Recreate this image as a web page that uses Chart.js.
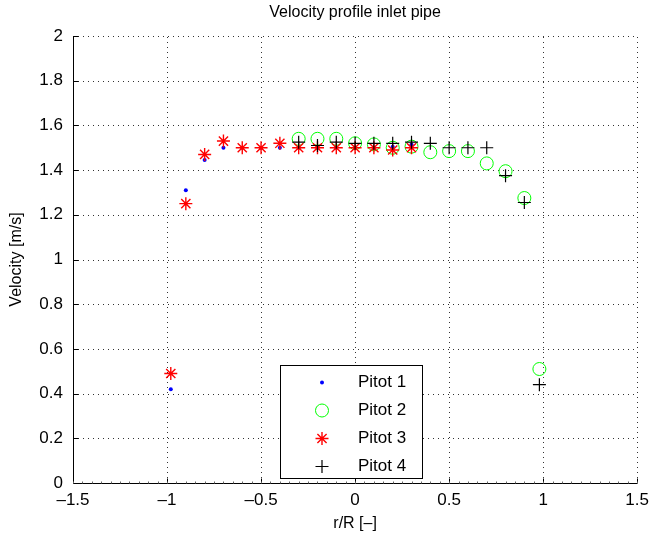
<!DOCTYPE html>
<html>
<head>
<meta charset="utf-8">
<script src="https://cdn.jsdelivr.net/npm/chart.js@4"></script>
<style>
  body { margin:0; background:#fff; }
  #wrap { width:656px; height:539px; }
</style>
</head>
<body>
<div id="wrap"><canvas id="velChart" width="656" height="539"></canvas></div>
<script>
// --- Data ---
const pitot1R = [-0.98,-0.9,-0.8,-0.7,-0.6,-0.5,-0.4,-0.3,-0.2,-0.1,0,0.1,0.2,0.3];
const pitot1V = [0.42,1.31,1.445,1.50,1.50,1.50,1.50,1.50,1.50,1.50,1.50,1.50,1.505,1.515];

const pitot2R = [-0.3,-0.2,-0.1,0,0.1,0.2,0.3,0.4,0.5,0.6,0.7,0.8,0.9,0.98];
const pitot2V = [1.54,1.54,1.54,1.52,1.515,1.50,1.505,1.48,1.485,1.485,1.43,1.395,1.275,0.51];

const pitot3R = [-0.98,-0.9,-0.8,-0.7,-0.6,-0.5,-0.4,-0.3,-0.2,-0.1,0,0.1,0.2,0.3];
const pitot3V = [0.49,1.25,1.47,1.53,1.50,1.50,1.52,1.50,1.50,1.50,1.50,1.50,1.49,1.50];

const pitot4R = [-0.3,-0.2,-0.1,0,0.1,0.2,0.3,0.4,0.5,0.6,0.7,0.8,0.9,0.98];
const pitot4V = [1.525,1.51,1.525,1.52,1.52,1.52,1.525,1.52,1.50,1.50,1.50,1.375,1.255,0.44];

const xTicks = [-1.5,-1,-0.5,0,0.5,1,1.5];
const yTicks = [0,0.2,0.4,0.6,0.8,1,1.2,1.4,1.6,1.8,2];

const FONT = "'Liberation Sans', Arial, Helvetica, sans-serif";
const pts = (xs, ys) => xs.map((x,i)=>({x, y:ys[i]}));

// draw one marker (used for the legend)
function marker(ctx, ds, cx, cy) {
  const r = ds.pointRadius;
  ctx.save();
  ctx.strokeStyle = ds.borderColor; ctx.fillStyle = ds.backgroundColor; ctx.lineWidth = ds.borderWidth || 1;
  ctx.beginPath();
  if (ds.pointStyle === 'circle') {
    ctx.arc(cx, cy, r, 0, Math.PI*2);
    if (ds.borderWidth === 0) ctx.fill(); else ctx.stroke();
  } else {
    ctx.moveTo(cx-r, cy); ctx.lineTo(cx+r, cy); ctx.moveTo(cx, cy-r); ctx.lineTo(cx, cy+r);
    if (ds.pointStyle === 'star') {
      const d = r*0.7071;
      ctx.moveTo(cx-d, cy-d); ctx.lineTo(cx+d, cy+d); ctx.moveTo(cx-d, cy+d); ctx.lineTo(cx+d, cy-d);
    }
    ctx.stroke();
  }
  ctx.restore();
}

// --- MATLAB-ish frame: dotted grid, axes, inward ticks, title, legend ---
const framePlugin = {
  id: 'frame',
  beforeDatasetsDraw(chart) {
    const {ctx, chartArea:a, scales:{x, y}} = chart;
    ctx.save();
    ctx.strokeStyle = '#333';
    ctx.lineWidth = 1;
    ctx.setLineDash([1,4]);
    xTicks.forEach(t=>{
      const px = Math.round(x.getPixelForValue(t)) + 0.5;
      ctx.beginPath(); ctx.moveTo(px, a.bottom); ctx.lineTo(px, a.top); ctx.stroke();
    });
    yTicks.forEach(t=>{
      const py = Math.round(y.getPixelForValue(t)) + 0.5;
      ctx.beginPath(); ctx.moveTo(a.left, py); ctx.lineTo(a.right, py); ctx.stroke();
    });
    ctx.setLineDash([]);
    ctx.strokeStyle = '#000';
    const L = Math.round(a.left) + 0.5, B = Math.round(a.bottom) + 0.5;
    ctx.beginPath(); ctx.moveTo(L, a.top); ctx.lineTo(L, B); ctx.lineTo(a.right, B); ctx.stroke();
    xTicks.forEach(t=>{
      const px = Math.round(x.getPixelForValue(t)) + 0.5;
      ctx.beginPath(); ctx.moveTo(px, B); ctx.lineTo(px, B-5); ctx.stroke();
    });
    yTicks.forEach(t=>{
      const py = Math.round(y.getPixelForValue(t)) + 0.5;
      ctx.beginPath(); ctx.moveTo(L, py); ctx.lineTo(L+5, py); ctx.stroke();
    });
    ctx.strokeStyle = '#666';
    for (let v=-1.5; v<=1.5001; v+=0.05) {
      const px = Math.round(x.getPixelForValue(v)) + 0.5;
      ctx.beginPath(); ctx.moveTo(px, B); ctx.lineTo(px, B-2); ctx.stroke();
    }
    ctx.restore();
  },
  afterDraw(chart) {
    const {ctx, chartArea:a} = chart;
    ctx.save();
    ctx.fillStyle = '#000';
    ctx.font = `16px ${FONT}`;
    ctx.textAlign = 'center';
    ctx.textBaseline = 'middle';
    ctx.fillText('Velocity profile inlet pipe', (a.left+a.right)/2, 13);
    ctx.fillText('r/R [\u2013]', (a.left+a.right)/2, 524);
    ctx.translate(17, (a.top+a.bottom)/2);
    ctx.rotate(-Math.PI/2);
    ctx.fillText('Velocity [m/s]', 0, 0);
    ctx.restore();

    // legend box
    const bx = 280.5, by = 365.5, bw = 142, bh = 113;
    ctx.save();
    ctx.fillStyle = '#fff';
    ctx.fillRect(bx, by, bw, bh);
    ctx.strokeStyle = '#000';
    ctx.lineWidth = 1;
    ctx.strokeRect(bx, by, bw, bh);
    ctx.font = `17px ${FONT}`;
    ctx.textAlign = 'left';
    ctx.textBaseline = 'middle';
    chart.data.datasets.forEach((ds, i)=>{
      const cy = by + 17 + i*28;
      marker(ctx, ds, 322, cy);
      ctx.fillStyle = '#000';
      ctx.fillText(ds.label, 358, cy);
    });
    ctx.restore();
  }
};

new Chart(document.getElementById('velChart'), {
  type: 'scatter',
  data: {
    datasets: [
      { label:'Pitot 1', data:pts(pitot1R, pitot1V), order:4, pointStyle:'circle', pointRadius:2,
        borderWidth:0, borderColor:'#0000ff', backgroundColor:'#0000ff' },
      { label:'Pitot 2', data:pts(pitot2R, pitot2V), order:3, pointStyle:'circle', pointRadius:6.5,
        borderWidth:1, borderColor:'#00ff00', backgroundColor:'transparent' },
      { label:'Pitot 3', data:pts(pitot3R, pitot3V), order:2, pointStyle:'star', pointRadius:6.5,
        borderWidth:1.4, borderColor:'#ff0000', backgroundColor:'#ff0000' },
      { label:'Pitot 4', data:pts(pitot4R, pitot4V), order:1, pointStyle:'cross', pointRadius:6.5,
        borderWidth:1.2, borderColor:'#000000', backgroundColor:'#000000' }
    ]
  },
  options: {
    responsive: false,
    animation: false,
    layout: { padding: { top:36, right:15, left:0, bottom:0 } },
    plugins: { legend:{display:false}, title:{display:false}, tooltip:{enabled:false} },
    scales: {
      x: {
        type:'linear', min:-1.5, max:1.5,
        afterFit: s => { s.height = 56; },
        afterBuildTicks: s => { s.ticks = xTicks.map(v=>({value:v})); },
        grid: { display:false, drawTicks:false },
        border: { display:false },
        ticks: { color:'#000', padding:7, maxRotation:0, font:{family:FONT, size:17},
          callback: v => String(v).replace('-', '\u2013') }
      },
      y: {
        type:'linear', min:0, max:2,
        afterFit: s => { s.width = 73; },
        afterBuildTicks: s => { s.ticks = yTicks.map(v=>({value:v})); },
        grid: { display:false, drawTicks:false },
        border: { display:false },
        ticks: { color:'#000', padding:10, font:{family:FONT, size:17},
          callback: v => String(v) }
      }
    }
  },
  plugins: [framePlugin]
});
</script>
</body>
</html>
